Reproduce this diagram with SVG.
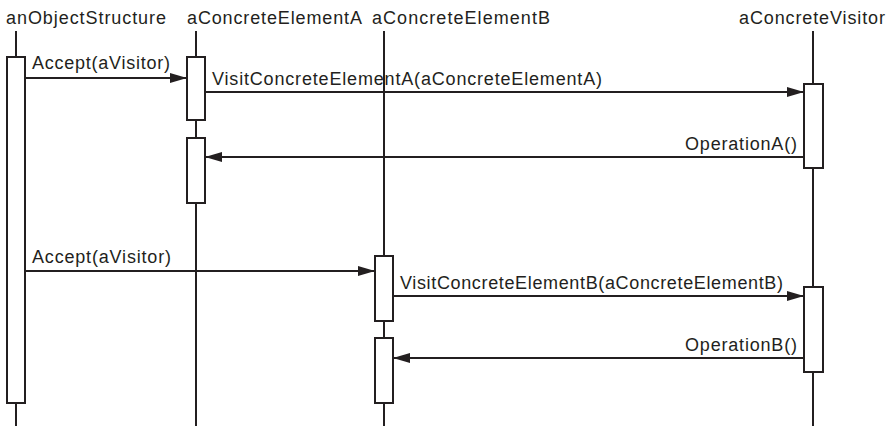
<svg xmlns="http://www.w3.org/2000/svg" width="888" height="426" viewBox="0 0 888 426">
<style>
text{font-family:"Liberation Sans",Arial,Helvetica,sans-serif;font-size:18px;fill:#231f20}
.life{stroke:#231f20;stroke-width:2;fill:none}
.act{stroke:#231f20;stroke-width:2;fill:#ffffff}
.msg{stroke:#231f20;stroke-width:2;fill:none;marker-end:url(#arr)}
</style>
<defs>
<marker id="arr" viewBox="0 0 17 10" refX="17" refY="5" markerWidth="17" markerHeight="10" markerUnits="userSpaceOnUse" orient="auto">
<path d="M0,0 L17,5 L0,10 Z" fill="#231f20"/>
</marker>
</defs>
<rect width="888" height="426" fill="#ffffff"/>
<g id="anObjectStructure">
<text x="6" y="24" textLength="160" lengthAdjust="spacing">anObjectStructure</text>
<line class="life" x1="16" y1="31" x2="16" y2="426"/>
<rect class="act" x="7" y="57" width="18" height="346"/>
</g>
<g id="aConcreteElementA">
<text x="187" y="24" textLength="175" lengthAdjust="spacing">aConcreteElementA</text>
<line class="life" x1="196" y1="31" x2="196" y2="426"/>
<rect class="act" x="187" y="57" width="18" height="63"/>
<rect class="act" x="187" y="138" width="18" height="65"/>
</g>
<g id="aConcreteElementB">
<text x="372" y="24" textLength="178" lengthAdjust="spacing">aConcreteElementB</text>
<line class="life" x1="384" y1="31" x2="384" y2="426"/>
<rect class="act" x="375" y="256" width="18" height="65"/>
<rect class="act" x="375" y="338" width="18" height="65"/>
</g>
<g id="aConcreteVisitor">
<text x="739" y="24" textLength="146" lengthAdjust="spacing">aConcreteVisitor</text>
<line class="life" x1="813" y1="31" x2="813" y2="426"/>
<rect class="act" x="804" y="84" width="19" height="84"/>
<rect class="act" x="804" y="287" width="19" height="85"/>
</g>
<g id="connectors">
<line class="msg" x1="25" y1="78" x2="187" y2="78"/>
<text x="32" y="69" textLength="138" lengthAdjust="spacing">Accept(aVisitor)</text>
<line class="msg" x1="205" y1="92" x2="804" y2="92"/>
<text x="212" y="85" textLength="390" lengthAdjust="spacing">VisitConcreteElementA(aConcreteElementA)</text>
<line class="msg" x1="804" y1="157" x2="205" y2="157"/>
<text x="797" y="150" text-anchor="end" textLength="112" lengthAdjust="spacing">OperationA()</text>
<line class="msg" x1="25" y1="271" x2="375" y2="271"/>
<text x="32" y="263" textLength="139" lengthAdjust="spacing">Accept(aVisitor)</text>
<line class="msg" x1="393" y1="296" x2="804" y2="296"/>
<text x="400" y="289" textLength="383" lengthAdjust="spacing">VisitConcreteElementB(aConcreteElementB)</text>
<line class="msg" x1="804" y1="358" x2="393" y2="358"/>
<text x="797" y="351" text-anchor="end" textLength="112" lengthAdjust="spacing">OperationB()</text>
</g>
</svg>
